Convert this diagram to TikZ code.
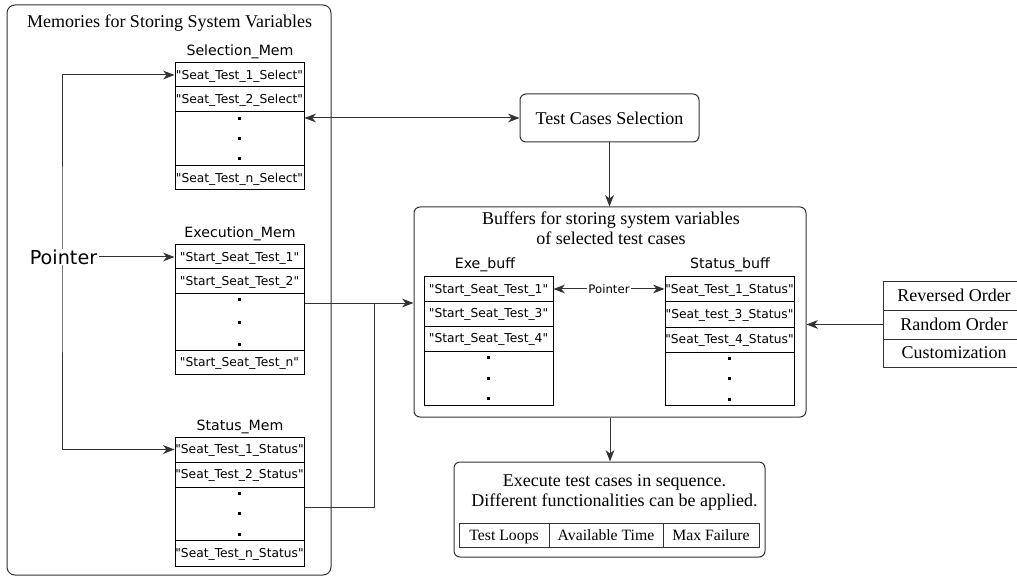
\documentclass[tikz,border=0pt]{standalone}
\usepackage{fontspec}
\setmainfont{Liberation Serif}
\setsansfont{DejaVu Sans}[Ligatures=TeXOff]
\usetikzlibrary{arrows.meta}
% three small square dots stacked in the middle of a cell
\newcommand\threedots[2]{%
  \foreach \d in {-1,0,1}{%
    \fill ([xshift=-1.125pt, yshift={\d*#2*0.75pt-1.125pt}]#1.center) rectangle ++(3,-3);}}
\begin{document}
\begin{tikzpicture}[x=0.75pt,y=-0.75pt,
  every path/.style={line width=0.75pt},
  cell/.style={draw=black, line width=0.75pt, minimum width=96.75pt, inner sep=0pt,
    text height=6.7pt, text depth=0.6pt,
    font=\sffamily\fontsize{9.2}{11}\selectfont},
  memlabel/.style={font=\sffamily\fontsize{10.6}{12}\selectfont, inner sep=0pt},
  serif/.style={font=\fontsize{13.5}{15}\selectfont, align=center, inner sep=0pt},
  box/.style={draw=black!80, rounded corners=4.5pt, line width=0.75pt},
  opt/.style={draw=black!80, line width=0.75pt, inner sep=0pt,
    text height=7.8pt, text depth=0.3pt, font=\fontsize{11.8}{13}\selectfont},
  order/.style={draw=black!80, line width=0.75pt, inner sep=0pt, minimum width=106.5pt,
    text height=9pt, text depth=0.3pt, font=\fontsize{13.5}{15}\selectfont},
  conn/.style={draw=black!80},
  arr/.style={conn, -{Stealth[length=8.5pt, width=6.5pt, inset=2.5pt]}},
  darr/.style={conn, {Stealth[length=8.5pt, width=6.5pt, inset=2.5pt]}-{Stealth[length=8.5pt, width=6.5pt, inset=2.5pt]}},
]
\useasboundingbox (0,0) rectangle (1017,577);

% ---- memories frame ----
\node[box, rounded corners=6pt, minimum width=243pt, minimum height=427.5pt] (memframe) at (169,290) {};
\node[serif] (memtitle) at (169.5,23) {Memories for Storing System Variables};

% Selection_Mem
\node[memlabel] (selL) at (240,52) {Selection\_Mem};
\node[cell, minimum height=18pt] (s1) at (239.5,75) {"Seat\_Test\_1\_Select"};
\node[cell, minimum height=18.75pt] (s2) at (239.5,99.5) {"Seat\_Test\_2\_Select"};
\node[cell, minimum height=40.5pt] (s3) at (239.5,139) {};
\node[cell, minimum height=18pt] (s4) at (239.5,178) {"Seat\_Test\_n\_Select"};
\threedots{s3}{20}

% Execution_Mem
\node[memlabel] (exeL) at (240,234) {Execution\_Mem};
\node[cell, minimum height=18pt] (e1) at (239.5,257) {"Start\_Seat\_Test\_1"};
\node[cell, minimum height=18.75pt] (e2) at (239.5,281.5) {"Start\_Seat\_Test\_2"};
\node[cell, minimum height=42pt] (e3) at (239.5,322) {};
\node[cell, minimum height=18pt] (e4) at (239.5,362) {"Start\_Seat\_Test\_n"};
\threedots{e3}{22.5}

% Status_Mem
\node[memlabel] (staL) at (240,427) {Status\_Mem};
\node[cell, minimum height=18.75pt] (m1) at (239.5,449.5) {"Seat\_Test\_1\_Status"};
\node[cell, minimum height=18.75pt] (m2) at (239.5,474.5) {"Seat\_Test\_2\_Status"};
\node[cell, minimum height=39.75pt] (m3) at (239.5,513.5) {};
\node[cell, minimum height=19.5pt] (m4) at (239.5,553) {"Seat\_Test\_n\_Status"};
\threedots{m3}{20.5}

% pointer into the three memories
\draw[darr] (s1.west) -| (62,257) |- (m1.west);
\node[font=\sffamily\fontsize{14.4}{16}\selectfont, fill=white, inner sep=0.75pt] (ptr) at (63.5,257) {Pointer};
\draw[arr] (ptr.east) -- (e1.west);

% ---- test case selection ----
\node[box, serif, minimum width=134.25pt, minimum height=36pt] (tcs) at (609.5,118) {Test Cases Selection};
\draw[darr] (s3.east |- tcs.west) -- (tcs.west);

% ---- buffers ----
\node[box, minimum width=294pt, minimum height=157.5pt] (buf) at (610,312) {};
\node[serif] (buftitle) at (611,228) {Buffers for storing system variables\\of selected test cases};
\draw[arr] (tcs.south) -- (tcs.south |- buf.north);

\node[memlabel] (exbL) at (485,265) {Exe\_buff};
\node[cell, minimum height=18pt] (b1) at (488.5,289) {"Start\_Seat\_Test\_1"};
\node[cell, minimum height=18.75pt] (b2) at (488.5,313.5) {"Start\_Seat\_Test\_3"};
\node[cell, minimum height=18.75pt] (b3) at (488.5,338.5) {"Start\_Seat\_Test\_4"};
\node[cell, minimum height=40.5pt] (b4) at (488.5,378) {};
\threedots{b4}{20.5}

\node[memlabel] (stbL) at (730,265) {Status\_buff};
\node[cell, minimum height=18pt] (t1) at (729.5,289) {"Seat\_Test\_1\_Status"};
\node[cell, minimum height=19.5pt] (t2) at (729.5,314) {"Seat\_test\_3\_Status"};
\node[cell, minimum height=18.75pt] (t3) at (729.5,339.5) {"Seat\_Test\_4\_Status"};
\node[cell, minimum height=39.75pt] (t4) at (729.5,378.5) {};
\threedots{t4}{20.5}

\draw[darr] (b1.east) -- node[fill=white, inner sep=0.75pt, font=\sffamily\fontsize{8.8}{10}\selectfont] (ptr2) {Pointer} (t1.west);

% memories feeding the buffers
\coordinate (jn) at (374,303);
\coordinate (stout) at (374,507);
\draw[arr] (e3.east |- jn) -- (buf.west |- jn);
\draw[conn] (m3.east |- stout) -- (stout) -- (jn);

% ---- ordering options ----
\node[order, minimum height=21pt] (r1) at (954,296) {Reversed Order};
\node[order, minimum height=21.75pt] (r2) at (954,324.5) {Random Order};
\node[order, minimum height=21pt] (r3) at (954,353) {Customization};
\draw[arr] (r2.west) -- (buf.east |- r2.west);

% ---- execution ----
\node[box, minimum width=233.25pt, minimum height=71.25pt] (exec) at (609.5,509.5) {};
\node[serif] (exectext) at (614.5,492.5) {Execute test cases in sequence.\\ Different functionalities can be applied.};
\draw[arr] (buf.south) -- (buf.south |- exec.north);
\node[opt, minimum width=67.5pt, minimum height=18pt] (c1) at (504,535) {Test Loops};
\node[opt, minimum width=85.5pt, minimum height=18pt] (c2) at (606,535) {Available Time};
\node[opt, minimum width=72pt, minimum height=18pt] (c3) at (711,535) {Max Failure};
\end{tikzpicture}
\end{document}
